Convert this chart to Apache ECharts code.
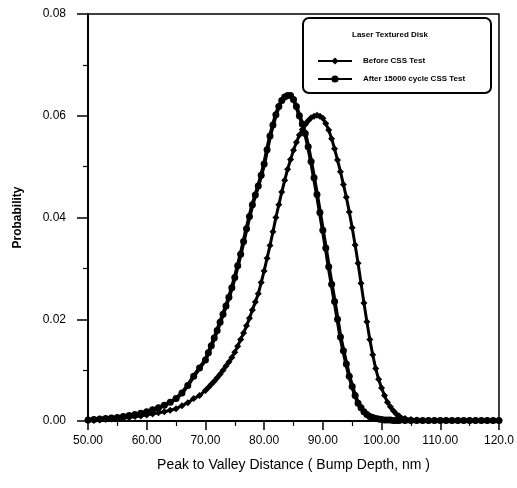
<!DOCTYPE html>
<html>
<head>
<meta charset="UTF-8">
<title>Laser Textured Disk - bump depth</title>
<script src="https://cdn.jsdelivr.net/npm/echarts@6/dist/echarts.min.js"></script>
<style>
  html, body { margin: 0; padding: 0; background: #fff; }
  #chart { width: 517px; height: 488px; }
</style>
</head>
<body>
<div id="chart"></div>
<script>
// x positions (nm), shared by both curves
var depthNm = [
  50, 51, 52, 53, 54, 55, 56, 57, 58, 59, 60, 61, 62, 63, 64, 65, 66, 67, 68, 69, 70,
  70.5, 71, 71.5, 72, 72.5, 73, 73.5, 74, 74.5, 75, 75.5, 76, 76.5, 77, 77.5, 78, 78.5,
  79, 79.5, 80, 80.5, 81, 81.5, 82, 82.5, 83, 83.5, 84, 84.5, 85, 85.5, 86, 86.5, 87,
  87.5, 88, 88.5, 89, 89.5, 90, 90.5, 91, 91.5, 92, 92.5, 93, 93.5, 94, 94.5, 95, 95.5,
  96, 96.5, 97, 97.5, 98, 98.5, 99, 99.5, 100, 100.5, 101, 101.5, 102, 102.5, 103,
  104, 105, 106, 107, 108, 109, 110, 111, 112, 113, 114, 115, 116, 117, 118, 119, 120
];

// Before CSS Test (diamonds)
var beforeProb = [
  0.0001, 0.0001, 0.0002, 0.0003, 0.0004, 0.0005, 0.0006, 0.0007, 0.0009, 0.0010, 0.0012,
  0.0014, 0.0016, 0.0018, 0.0021, 0.0024, 0.0030, 0.0036, 0.0044, 0.0050, 0.0060,
  0.0066, 0.0072, 0.0078, 0.0085, 0.0092, 0.0100, 0.0108, 0.0116, 0.0125, 0.0135, 0.0147,
  0.0160, 0.0173, 0.0187, 0.0202, 0.0218, 0.0234, 0.0250, 0.0272, 0.0295, 0.0320, 0.0345,
  0.0372, 0.0400, 0.0425, 0.0450, 0.0473, 0.0495, 0.0514, 0.0532, 0.0548, 0.0562, 0.0573,
  0.0583, 0.0590, 0.0596, 0.0599, 0.0601, 0.0599, 0.0595, 0.0585, 0.0572, 0.0555, 0.0535,
  0.0513, 0.0490, 0.0465, 0.0440, 0.0411, 0.0380, 0.0346, 0.0310, 0.0271, 0.0232, 0.0195,
  0.0160, 0.0130, 0.0103, 0.0082, 0.0065, 0.0050, 0.0037, 0.0028, 0.0020, 0.0014, 0.0010,
  0.0005, 0.0003, 0.0002, 0.0001, 0.0001, 0.0001, 0.0001, 0.0001, 0.0001, 0.0001, 0.0001,
  0.0001, 0.0001, 0.0001, 0.0001, 0.0001, 0.0001
];

// After 15000 cycle CSS Test (circles)
var afterProb = [
  0.0002, 0.0003, 0.0004, 0.0005, 0.0006, 0.0007, 0.0009, 0.0011, 0.0013, 0.0015, 0.0018,
  0.0022, 0.0026, 0.0031, 0.0037, 0.0044, 0.0055, 0.0070, 0.0088, 0.0104, 0.0120,
  0.0134, 0.0148, 0.0163, 0.0178, 0.0194, 0.0210, 0.0226, 0.0243, 0.0262, 0.0282, 0.0305,
  0.0328, 0.0353, 0.0378, 0.0402, 0.0425, 0.0444, 0.0462, 0.0483, 0.0505, 0.0533, 0.0560,
  0.0582, 0.0602, 0.0618, 0.0630, 0.0637, 0.0640, 0.0640, 0.0632, 0.0618, 0.0600, 0.0584,
  0.0565, 0.0539, 0.0510, 0.0478, 0.0445, 0.0410, 0.0375, 0.0340, 0.0303, 0.0269, 0.0235,
  0.0200, 0.0165, 0.0138, 0.0112, 0.0088, 0.0068, 0.0050, 0.0035, 0.0026, 0.0018, 0.0013,
  0.0009, 0.0007, 0.0005, 0.0004, 0.0003, 0.0002, 0.0002, 0.0002, 0.0001, 0.0001, 0.0001,
  0.0001, 0.0001, 0.0001, 0.0001, 0.0001, 0.0001, 0.0001, 0.0001, 0.0001, 0.0001, 0.0001,
  0.0001, 0.0001, 0.0001, 0.0001, 0.0001, 0.0001
];

var seriesNames = ['Before CSS Test', 'After 15000 cycle CSS Test'];
var xTickLabels = ['50.00', '60.00', '70.00', '80.00', '90.00', '100.00', '110.00', '120.0'];
var yTickLabels = ['0.00', '0.02', '0.04', '0.06', '0.08'];

function pairs(xs, ys) {
  var out = [];
  for (var i = 0; i < xs.length; i++) out.push([xs[i], ys[i]]);
  return out;
}

var font = '"Liberation Sans", Arial, sans-serif';
var chart = echarts.init(document.getElementById('chart'), null, { renderer: 'canvas' });

var option = {
  animation: false,
  backgroundColor: '#fff',
  textStyle: { fontFamily: font, color: '#000' },
  grid: {
    left: 88, right: 15, top: 14, bottom: 67,
    show: true, borderColor: '#000', borderWidth: 1.5, backgroundColor: 'transparent'
  },
  graphic: [
    {
      type: 'rect', left: 302, top: 17, z: 10,
      shape: { width: 188, height: 75, r: 6 },
      style: { fill: '#fff', stroke: '#000', lineWidth: 2 }
    },
    {
      type: 'text', left: 352, top: 31, z: 11,
      style: { text: 'Laser Textured Disk', font: 'bold 8px ' + font, fill: '#000' }
    }
  ],
  legend: {
    orient: 'vertical',
    left: 312, top: 52, z: 12,
    itemWidth: 34, itemHeight: 9, itemGap: 10,
    textStyle: { fontFamily: font, fontWeight: 'bold', fontSize: 8, color: '#000', padding: [0, 0, 0, 6] },
    data: seriesNames
  },
  xAxis: {
    type: 'value',
    min: 50, max: 120, interval: 10,
    name: 'Peak to Valley Distance ( Bump Depth, nm )',
    nameLocation: 'middle', nameGap: 37,
    nameTextStyle: { fontFamily: font, fontSize: 14, color: '#000' },
    axisLine: { lineStyle: { color: '#000', width: 2 } },
    axisTick: { inside: false, length: 9, lineStyle: { color: '#000', width: 1.5 } },
    minorTick: { show: true, splitNumber: 2, length: 5, lineStyle: { color: '#000', width: 1.2 } },
    splitLine: { show: false },
    axisLabel: {
      margin: 14, fontSize: 12, color: '#000', fontFamily: font,
      formatter: function (v) { return xTickLabels[Math.round((v - 50) / 10)]; }
    }
  },
  yAxis: {
    type: 'value',
    min: 0, max: 0.08, interval: 0.02,
    name: 'Probability',
    nameLocation: 'middle', nameGap: 64, nameRotate: 90,
    nameTextStyle: { fontFamily: font, fontSize: 12, fontWeight: 'bold', color: '#000' },
    axisLine: { show: true, lineStyle: { color: '#000', width: 2 } },
    axisTick: { show: true, inside: false, length: 11, lineStyle: { color: '#000', width: 1.5 } },
    minorTick: { show: true, splitNumber: 2, length: 5, lineStyle: { color: '#000', width: 1.2 } },
    splitLine: { show: false },
    axisLabel: {
      margin: 22, fontSize: 12, color: '#000', fontFamily: font,
      formatter: function (v) { return yTickLabels[Math.round(v / 0.02)]; }
    }
  },
  series: [
    {
      name: seriesNames[0],
      type: 'line',
      data: pairs(depthNm, beforeProb),
      symbol: 'diamond', symbolSize: 7,
      itemStyle: { color: '#000' },
      lineStyle: { color: '#000', width: 3 },
      z: 3
    },
    {
      name: seriesNames[1],
      type: 'line',
      data: pairs(depthNm, afterProb),
      symbol: 'circle', symbolSize: 7,
      itemStyle: { color: '#000' },
      lineStyle: { color: '#000', width: 4 },
      z: 4
    }
  ]
};

chart.setOption(option);
</script>
</body>
</html>
